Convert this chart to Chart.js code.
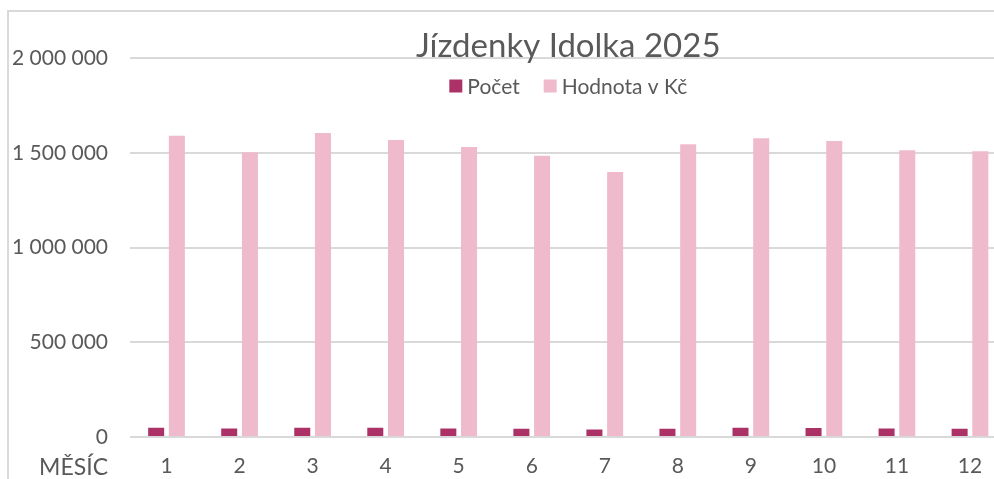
<!DOCTYPE html>
<html>
<head>
<meta charset="utf-8">
<script src="https://cdn.jsdelivr.net/npm/chart.js@4/dist/chart.umd.min.js"></script>
<style>
  html, body { margin: 0; padding: 0; background: #ffffff; overflow: hidden; width: 994px; height: 479px; }
  #wrap { position: absolute; left: 0; top: 0; width: 1040px; height: 479px; }
</style>
</head>
<body>
<div id="wrap"><canvas id="c" width="1040" height="479"></canvas></div>
<script>
const chartTitle = "Jízdenky Idolka 2025";
const axisTitle = "MĚSÍC";
const months = ["1", "2", "3", "4", "5", "6", "7", "8", "9", "10", "11", "12"];
const seriesNames = ["Počet", "Hodnota v Kč"];
const pocet = [49000, 45000, 49000, 49000, 45000, 43000, 40000, 43000, 49000, 47000, 45000, 43000];
const hodnota = [1590000, 1503000, 1604000, 1567000, 1530000, 1484000, 1398000, 1545000, 1576000, 1562000, 1513000, 1508000];
const yMin = 0, yMax = 2000000, yStep = 500000;

const FONT = "Lato, 'Open Sans', 'DejaVu Sans', sans-serif";
const TEXT = "#595959";
const GRID = "#d9d9d9";
const C_DARK = "#ab3167";
const C_PINK = "#efbacc";

function fmt(v) {
  return String(v).replace(/\B(?=(\d{3})+(?!\d))/g, " ");
}

const decor = {
  id: "decor",
  beforeDraw(chart) {
    const ctx = chart.ctx;
    ctx.save();
    ctx.fillStyle = "#ffffff";
    ctx.fillRect(0, 0, chart.width, chart.height);
    ctx.strokeStyle = GRID;
    ctx.lineWidth = 2;
    ctx.strokeRect(8, 11, chart.width + 50, chart.height + 50);
    ctx.restore();
  },
  afterDraw(chart) {
    const ctx = chart.ctx;
    const ca = chart.chartArea;
    const cx = (ca.left + ca.right) / 2;
    ctx.save();
    // title
    ctx.fillStyle = TEXT;
    ctx.font = "33px " + FONT;
    ctx.textAlign = "center";
    ctx.textBaseline = "alphabetic";
    ctx.fillText(chartTitle, cx, 57);
    // legend
    ctx.font = "21px " + FONT;
    const box = 13, gapTxt = 5, gapItem = 24;
    const items = chart.data.datasets.map(d => ({ label: d.label, color: d.backgroundColor }));
    let total = 0;
    items.forEach((it, i) => {
      it.w = ctx.measureText(it.label).width;
      total += box + gapTxt + it.w + (i < items.length - 1 ? gapItem : 0);
    });
    let x = cx - total / 2;
    const ly = 86;
    ctx.textAlign = "left";
    ctx.textBaseline = "middle";
    items.forEach(it => {
      ctx.fillStyle = it.color;
      ctx.fillRect(x, ly - box / 2, box, box);
      x += box + gapTxt;
      ctx.fillStyle = TEXT;
      ctx.fillText(it.label, x, ly + 1);
      x += it.w + gapItem;
    });
    // category axis title
    ctx.font = "23px " + FONT;
    ctx.textAlign = "right";
    ctx.textBaseline = "alphabetic";
    ctx.fillStyle = TEXT;
    ctx.fillText(axisTitle, 108, 475);
    ctx.restore();
  }
};

new Chart(document.getElementById("c"), {
  type: "bar",
  data: {
    labels: months,
    datasets: [
      { label: seriesNames[0], data: pocet, backgroundColor: C_DARK, categoryPercentage: 0.567, barPercentage: 0.773 },
      { label: seriesNames[1], data: hodnota, backgroundColor: C_PINK, categoryPercentage: 0.567, barPercentage: 0.773 }
    ]
  },
  options: {
    responsive: false,
    animation: false,
    layout: { padding: { top: 58, right: 33.5, left: 0, bottom: 0 } },
    plugins: {
      legend: { display: false },
      title: { display: false },
      tooltip: { enabled: false }
    },
    scales: {
      x: {
        grid: { display: false, drawTicks: false },
        border: { display: false },
        ticks: { color: TEXT, font: { family: FONT, size: 21 }, padding: 17, maxRotation: 0 },
        afterFit(s) { s.height = 42; }
      },
      y: {
        min: yMin, max: yMax,
        grid: { color: GRID, lineWidth: 2, drawTicks: false },
        border: { display: false },
        ticks: { stepSize: yStep, color: TEXT, font: { family: FONT, size: 21 }, padding: 22, callback: v => fmt(v) },
        afterFit(s) { s.width = 130; }
      }
    }
  },
  plugins: [decor]
});
</script>
</body>
</html>
